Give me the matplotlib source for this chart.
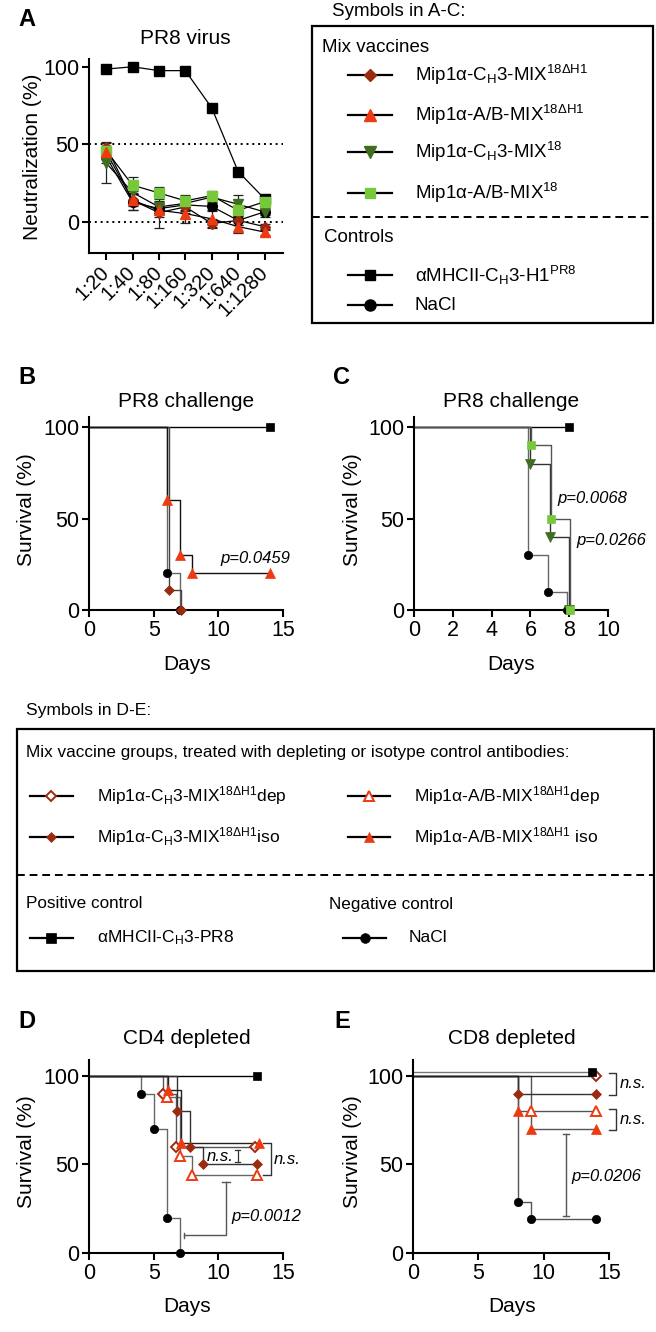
import matplotlib
matplotlib.use("Agg")
import matplotlib.pyplot as plt
from matplotlib.lines import Line2D
from matplotlib.patches import Rectangle
from matplotlib import font_manager

plt.rcParams['font.family'] = ['Liberation Sans', 'DejaVu Sans']
plt.rcParams['mathtext.fontset'] = 'custom'
plt.rcParams['mathtext.rm'] = 'Liberation Sans'
plt.rcParams['mathtext.it'] = 'Liberation Sans:italic'
plt.rcParams['mathtext.bf'] = 'Liberation Sans:bold'
plt.rcParams['mathtext.default'] = 'regular'

_names = {f.name for f in font_manager.fontManager.ttflist}
if 'Liberation Sans Narrow' in _names:
    NARROW = ['Liberation Sans Narrow', 'Liberation Sans', 'DejaVu Sans']
    NFS = 14.3
else:
    NARROW = ['Liberation Sans', 'DejaVu Sans']
    NFS = 12.3

# ---------------- data ----------------
# Panel A: neutralization (%)
dilutions = ['1:20', '1:40', '1:80', '1:160', '1:320', '1:640', '1:1280']
A_ch3_d   = [48.5, 14, 6, 9.7, -1, 1, -3]
A_ab_d    = [45, 14, 7.5, 5.4, 2, -3, -6.5]
A_ch3     = [38, 19, 9.7, 12, 16, 11.4, 6.5]
A_ab      = [46, 23.7, 18.7, 13.6, 17, 7.5, 13]
A_mhc     = [98.5, 100, 97.5, 97.5, 73.5, 32.5, 15]
A_nacl    = [42, 12.7, 8.6, 11, 10, 1, 6.5]
A_ch3_d_err = [3, 4, 10, 4, 3, 3, 2]
A_ab_d_err  = [4, 6, 4, 6, 5, 4, 2]
A_ch3_err   = [13, 5, 4, 5, 3, 6, 3]
A_ab_err    = [3, 5, 4, 4, 3, 3, 3]
A_mhc_err   = [1, 0.5, 1, 1, 1, 2, 2]
A_nacl_err  = [4, 5, 3, 3, 2, 3, 2]

# Panel B: survival (days, %)
B_mhc_t, B_mhc_s = [0, 14], [100, 100]
B_nacl_t, B_nacl_s = [0, 6, 7], [100, 20, 0]
B_ch3d_t, B_ch3d_s = [0, 6.2, 7.1], [100, 11, 0]
B_abd_t, B_abd_s = [0, 6, 7, 8, 14], [100, 60, 30, 20, 20]

# Panel C
C_mhc_t, C_mhc_s = [0, 8], [100, 100]
C_nacl_t, C_nacl_s = [0, 5.9, 6.9, 7.9], [100, 30, 10, 0]
C_ch3_t, C_ch3_s = [0, 6, 7, 8], [100, 80, 40, 0]
C_ab_t, C_ab_s = [0, 6.05, 7.05, 8.05], [100, 90, 50, 0]

# Panel D: CD4 depleted
D_mhc_t, D_mhc_s = [0, 13], [100, 100]
D_nacl_t, D_nacl_s = [0, 4, 5, 6, 7], [100, 90, 70, 20, 0]
D_ch3dep_t, D_ch3dep_s = [0, 5.75, 6.75, 12.8], [100, 90, 60, 60]
D_abiso_t, D_abiso_s = [0, 6.1, 7.1, 13.15], [100, 92, 62, 62]
D_abdep_t, D_abdep_s = [0, 6.0, 7.0, 8.0, 13.0], [100, 88, 55, 44, 44]
D_ch3iso_t, D_ch3iso_s = [0, 6.8, 7.8, 8.8, 13.0], [100, 80, 60, 50, 50]

# Panel E: CD8 depleted
E_mhc_t, E_mhc_s = [0, 13.7], [102, 102]
E_ch3dep_t, E_ch3dep_s = [0, 14], [100, 100]
E_ch3iso_t, E_ch3iso_s = [0, 8, 14], [100, 90, 90]
E_abiso_t, E_abiso_s = [0, 8, 9, 14], [100, 80, 70, 70]
E_abdep_t, E_abdep_s = [0, 9, 14], [100, 80, 80]
E_nacl_t, E_nacl_s = [0, 8, 9, 14], [100, 29, 19, 19]

p_B = 'p=0.0459'
p_C1, p_C2 = 'p=0.0068', 'p=0.0266'
p_D = 'p=0.0012'
p_E = 'p=0.0206'

# ---------------- styles ----------------
DRED = '#9A2A10'
RED = '#EE3A12'
DGREEN = '#3F6E20'
LGREEN = '#78C83C'
BLACK = 'black'

W, H = 656, 1332
fig = plt.figure(figsize=(W / 100, H / 100), dpi=100)


def px_axes(l, t, r, b):
    return fig.add_axes([l / W, 1 - b / H, (r - l) / W, (b - t) / H])


def ftext(x, y, s, **kw):
    kw.setdefault('ha', 'left')
    kw.setdefault('va', 'center')
    return fig.text(x / W, 1 - y / H, s, **kw)


def fline(x1, x2, y1, y2, **kw):
    fig.add_artist(Line2D([x1 / W, x2 / W], [1 - y1 / H, 1 - y2 / H],
                          transform=fig.transFigure, **kw))


def fmarker(x, y, **kw):
    fig.add_artist(Line2D([x / W], [1 - y / H], transform=fig.transFigure,
                          ls='none', **kw))


def style_axes(ax, fs=15.5):
    for sp in ['top', 'right']:
        ax.spines[sp].set_visible(False)
    for sp in ['left', 'bottom']:
        ax.spines[sp].set_linewidth(1.5)
    ax.tick_params(direction='out', width=1.5, length=5, labelsize=fs, pad=2)
    ax.patch.set_alpha(0)


def surv(ax, t, s, marker, color, open_=False, lc='#444444', ms=6, mew=1.4):
    ax.step(t, s, where='post', color=lc, lw=1.0, clip_on=False, zorder=2)
    ax.plot(t[1:], s[1:], ls='none', marker=marker, ms=ms,
            mfc='white' if open_ else color, mec=color,
            mew=mew if open_ else 0.5, clip_on=False, zorder=4)


def bracket_v(ax, x0, x1, y0, y1, color='#333333'):
    ax.plot([x0, x1, x1, x0], [y0, y0, y1, y1], color=color, lw=1.0,
            clip_on=False, zorder=3)


# ---------------- Panel A ----------------
axA = px_axes(89, 59, 283, 253)
xs = list(range(len(dilutions)))
A_series = [
    (A_mhc, A_mhc_err, 's', BLACK, 7),
    (A_nacl, A_nacl_err, 'o', BLACK, 7),
    (A_ch3, A_ch3_err, 'v', DGREEN, 7.5),
    (A_ch3_d, A_ch3_d_err, 'D', DRED, 5.5),
    (A_ab, A_ab_err, 's', LGREEN, 7),
    (A_ab_d, A_ab_d_err, '^', RED, 7.5),
]
for vals, err, m, c, ms in A_series:
    axA.errorbar(xs, vals, yerr=err, color=BLACK, lw=0.9, ecolor='#222222',
                 elinewidth=0.9, capsize=3.5, capthick=0.9, zorder=2)
    axA.plot(xs, vals, ls='none', marker=m, ms=ms, mfc=c, mec=c, zorder=4,
             clip_on=False)
axA.axhline(50, ls=(0, (1, 2)), color=BLACK, lw=1.4, zorder=1)
axA.axhline(0, ls=(0, (1, 2)), color=BLACK, lw=1.4, zorder=1)
axA.set_xlim(-0.65, 6.7)
axA.set_ylim(-20, 105)
axA.set_yticks([0, 50, 100])
axA.set_xticks(xs)
style_axes(axA)
axA.set_xticklabels(dilutions, rotation=45, ha='right', va='center',
                    rotation_mode='anchor', fontsize=14.5)
axA.tick_params(axis='x', pad=7)

ftext(27, 19, 'A', fontsize=17, fontweight='bold', ha='center')
ftext(185, 39, 'PR8 virus', fontsize=15, ha='center')
ftext(33, 157, 'Neutralization (%)', fontsize=15, rotation=90, ha='center')

# ---------------- Legend A-C ----------------
ftext(332, 12, 'Symbols in A-C:', fontsize=13.5)
fig.add_artist(Rectangle((312 / W, 1 - 323 / H), (653 - 312) / W, (323 - 26) / H,
                         transform=fig.transFigure, fill=False, lw=1.6,
                         ec=BLACK))
ftext(322, 48, 'Mix vaccines', fontsize=13.5)
leg1 = [
    (75, 'D', DRED, 6, 'Mip1α-C$_{H}$3-MIX$^{18ΔH1}$'),
    (115, '^', RED, 8, 'Mip1α-A/B-MIX$^{18ΔH1}$'),
    (152, 'v', DGREEN, 8, 'Mip1α-C$_{H}$3-MIX$^{18}$'),
    (193, 's', LGREEN, 7.5, 'Mip1α-A/B-MIX$^{18}$'),
    (275, 's', BLACK, 7.5, 'αMHCII-C$_{H}$3-H1$^{PR8}$'),
    (305, 'o', BLACK, 8, 'NaCl'),
]
for y, m, c, ms, lab in leg1:
    fline(348, 392, y, y, color=BLACK, lw=1.6)
    fmarker(370, y, marker=m, ms=ms, mfc=c, mec=c)
    ftext(415, y, lab, fontsize=13.5)
fline(312, 653, 217, 217, color=BLACK, lw=1.4, ls=(0, (4, 2.5)))
ftext(324, 237, 'Controls', fontsize=13.5)

# ---------------- Panel B ----------------
axB = px_axes(89, 417, 283, 610)
surv(axB, B_mhc_t, B_mhc_s, 's', BLACK, lc=BLACK)
surv(axB, B_nacl_t, B_nacl_s, 'o', BLACK, lc='#666666')
surv(axB, B_ch3d_t, B_ch3d_s, 'D', DRED, lc='#444444', ms=5)
surv(axB, B_abd_t, B_abd_s, '^', RED, lc='#111111', ms=6.5)
axB.set_xlim(0, 15)
axB.set_ylim(0, 105.5)
axB.set_xticks([0, 5, 10, 15])
axB.set_yticks([0, 50, 100])
style_axes(axB)
axB.text(10.2, 28, p_B, fontsize=12, style='italic', ha='left', va='center')
ftext(27, 377, 'B', fontsize=17, fontweight='bold', ha='center')
ftext(186, 401, 'PR8 challenge', fontsize=15, ha='center')
ftext(27, 510, 'Survival (%)', fontsize=15, rotation=90, ha='center')
ftext(187, 664, 'Days', fontsize=15, ha='center')

# ---------------- Panel C ----------------
axC = px_axes(414, 417, 608, 610)
surv(axC, C_mhc_t, C_mhc_s, 's', BLACK, lc=BLACK)
surv(axC, C_nacl_t, C_nacl_s, 'o', BLACK, lc='#666666')
surv(axC, C_ch3_t, C_ch3_s, 'v', DGREEN, lc='#333333', ms=6.5)
surv(axC, C_ab_t, C_ab_s, 's', LGREEN, lc='#555555', ms=6)
axC.set_xlim(0, 10)
axC.set_ylim(0, 105.5)
axC.set_xticks([0, 2, 4, 6, 8, 10])
axC.set_yticks([0, 50, 100])
style_axes(axC)
axC.text(7.4, 61, p_C1, fontsize=12, style='italic', ha='left', va='center')
axC.text(8.35, 38, p_C2, fontsize=12, style='italic', ha='left', va='center')
ftext(342, 377, 'C', fontsize=17, fontweight='bold', ha='center')
ftext(511, 401, 'PR8 challenge', fontsize=15, ha='center')
ftext(353, 510, 'Survival (%)', fontsize=15, rotation=90, ha='center')
ftext(511, 664, 'Days', fontsize=15, ha='center')

# ---------------- Legend D-E ----------------
ftext(26, 711, 'Symbols in D-E:', fontsize=NFS + 0.3, family=NARROW)
fig.add_artist(Rectangle((17 / W, 1 - 971 / H), (654 - 17) / W, (971 - 729) / H,
                         transform=fig.transFigure, fill=False, lw=1.6,
                         ec=BLACK))
ftext(26, 752, 'Mix vaccine groups, treated with depleting or isotype control antibodies:',
      fontsize=NFS, family=NARROW)
leg2 = [
    (30, 73, 51, 97, 796, 'D', DRED, True, 5.5, 'Mip1α-C$_{H}$3-MIX$^{18ΔH1}$dep'),
    (30, 73, 51, 97, 837, 'D', DRED, False, 5.5, 'Mip1α-C$_{H}$3-MIX$^{18ΔH1}$iso'),
    (348, 390, 369, 414, 796, '^', RED, True, 7, 'Mip1α-A/B-MIX$^{18ΔH1}$dep'),
    (348, 390, 369, 414, 837, '^', RED, False, 7, 'Mip1α-A/B-MIX$^{18ΔH1}$ iso'),
    (30, 73, 51, 97, 938, 's', BLACK, False, 7, 'αMHCII-C$_{H}$3-PR8'),
    (343, 386, 365, 409, 938, 'o', BLACK, False, 7, 'NaCl'),
]
for x1, x2, xm, xt, y, m, c, op, ms, lab in leg2:
    fline(x1, x2, y, y, color=BLACK, lw=1.6)
    fmarker(xm, y, marker=m, ms=ms, mfc='white' if op else c, mec=c,
            mew=1.4 if op else 0.5)
    ftext(xt, y, lab, fontsize=12.5)
fline(17, 654, 875, 875, color=BLACK, lw=1.4, ls=(0, (4, 2.5)))
ftext(26, 904, 'Positive control', fontsize=NFS, family=NARROW)
ftext(329, 904, 'Negative control', fontsize=NFS, family=NARROW)

# ---------------- Panel D ----------------
axD = px_axes(89, 1060, 283, 1253)
surv(axD, D_mhc_t, D_mhc_s, 's', BLACK, lc=BLACK)
surv(axD, D_nacl_t, D_nacl_s, 'o', BLACK, lc='#666666')
surv(axD, D_ch3dep_t, D_ch3dep_s, 'D', DRED, open_=True, lc='#555555', ms=5.5)
surv(axD, D_abdep_t, D_abdep_s, '^', RED, open_=True, lc='#666666', ms=7)
surv(axD, D_ch3iso_t, D_ch3iso_s, 'D', DRED, lc='#333333', ms=5)
surv(axD, D_abiso_t, D_abiso_s, '^', RED, lc='#222222', ms=6.5)
axD.set_xlim(0, 15)
axD.set_ylim(0, 109)
axD.set_xticks([0, 5, 10, 15])
axD.set_yticks([0, 50, 100])
style_axes(axD)
# n.s. between CH3 dep and iso
yt, yb = D_ch3dep_s[-1] - 2, D_ch3iso_s[-1] + 1.5
axD.plot([11.5, 11.5], [yb, yt], color='#333333', lw=0.9, clip_on=False)
axD.plot([11.3, 11.7], [yt, yt], color='#333333', lw=0.9, clip_on=False)
axD.plot([11.3, 11.7], [yb, yb], color='#333333', lw=0.9, clip_on=False)
axD.text(11.15, (yt + yb) / 2, 'n.s.', fontsize=12, style='italic', ha='right',
         va='center')
# n.s. between A/B iso and dep
bracket_v(axD, 13.45, 14.05, D_abiso_s[-1], D_abdep_s[-1])
axD.text(14.3, (D_abiso_s[-1] + D_abdep_s[-1]) / 2, 'n.s.', fontsize=12,
         style='italic', ha='left', va='center', clip_on=False)
# p-value bracket
axD.plot([10.6, 10.6, 7.35], [40, 10, 10], color='#555555', lw=1.0, clip_on=False)
axD.plot([10.3, 10.9], [40, 40], color='#555555', lw=1.0, clip_on=False)
axD.plot([7.35, 7.35], [8.5, 11.5], color='#555555', lw=1.0, clip_on=False)
axD.text(11.0, 20.5, p_D, fontsize=12, style='italic', ha='left', va='center')
ftext(27, 1021, 'D', fontsize=17, fontweight='bold', ha='center')
ftext(187, 1038, 'CD4 depleted', fontsize=15, ha='center')
ftext(27, 1152, 'Survival (%)', fontsize=15, rotation=90, ha='center')
ftext(187, 1307, 'Days', fontsize=15, ha='center')

# ---------------- Panel E ----------------
axE = px_axes(413, 1060, 609, 1253)
surv(axE, E_nacl_t, E_nacl_s, 'o', BLACK, lc='#555555')
surv(axE, E_abiso_t, E_abiso_s, '^', RED, lc='#555555', ms=6.5)
surv(axE, E_abdep_t, E_abdep_s, '^', RED, open_=True, lc='#555555', ms=7)
surv(axE, E_ch3iso_t, E_ch3iso_s, 'D', DRED, lc='#333333', ms=5)
surv(axE, E_ch3dep_t, E_ch3dep_s, 'D', DRED, open_=True, lc='#222222', ms=5.5)
surv(axE, E_mhc_t, E_mhc_s, 's', BLACK, lc='#777777')
axE.set_xlim(0, 15)
axE.set_ylim(0, 109)
axE.set_xticks([0, 5, 10, 15])
axE.set_yticks([0, 50, 100])
style_axes(axE)
bracket_v(axE, 15.0, 15.5, E_ch3dep_s[-1] + 1.5, E_ch3iso_s[-1] - 1)
axE.text(15.85, (E_ch3dep_s[-1] + E_ch3iso_s[-1]) / 2 + 0.5, 'n.s.', fontsize=12,
         style='italic', ha='left', va='center', clip_on=False)
bracket_v(axE, 15.0, 15.5, E_abdep_s[-1] + 1.5, E_abiso_s[-1] - 0.5)
axE.text(15.85, (E_abdep_s[-1] + E_abiso_s[-1]) / 2 + 0.5, 'n.s.', fontsize=12,
         style='italic', ha='left', va='center', clip_on=False)
axE.plot([11.7, 11.7], [E_abiso_s[-1] - 3, E_nacl_s[-1] + 2], color='#555555',
         lw=1.0, clip_on=False)
axE.plot([11.45, 11.95], [E_abiso_s[-1] - 3] * 2, color='#555555', lw=1.0)
axE.plot([11.45, 11.95], [E_nacl_s[-1] + 2] * 2, color='#555555', lw=1.0)
axE.text(12.1, 43, p_E, fontsize=12, style='italic', ha='left', va='center')
ftext(342, 1021, 'E', fontsize=17, fontweight='bold', ha='center')
ftext(512, 1038, 'CD8 depleted', fontsize=15, ha='center')
ftext(353, 1152, 'Survival (%)', fontsize=15, rotation=90, ha='center')
ftext(512, 1307, 'Days', fontsize=15, ha='center')

fig.savefig('out.png', dpi=100)
